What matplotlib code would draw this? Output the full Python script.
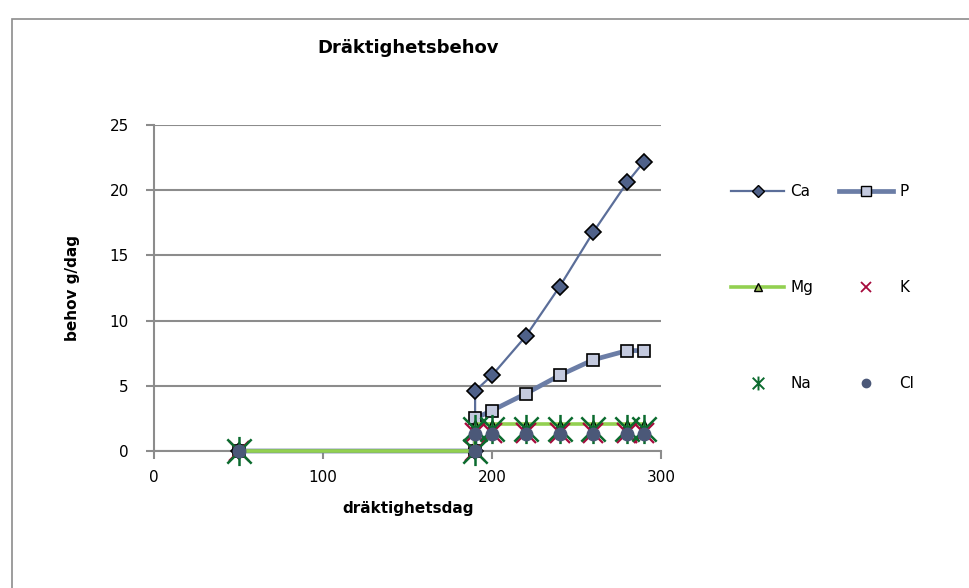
import matplotlib.pyplot as plt
from matplotlib.lines import Line2D
from matplotlib.patches import Rectangle
from matplotlib.path import Path

# Data
days = [50, 190, 190, 200, 220, 240, 260, 280, 290]
ca = [0, 0, 4.6, 5.8, 8.8, 12.6, 16.8, 20.6, 22.2]
p = [0, 0, 2.5, 3.1, 4.4, 5.8, 7.0, 7.7, 7.7]
mg = [0, 0, 2.1, 2.1, 2.1, 2.1, 2.1, 2.1, 2.1]
k = [0, 0, 1.4, 1.4, 1.4, 1.4, 1.4, 1.4, 1.4]
na = [0, 0, 1.7, 1.7, 1.7, 1.7, 1.7, 1.7, 1.7]
cl = [0, 0, 1.3, 1.3, 1.3, 1.3, 1.3, 1.3, 1.3]

ca_col = "#5b6e99"
p_col = "#6b7da6"
mg_col = "#92d050"
k_col = "#a50a3c"
na_col = "#0b6b2e"
cl_col = "#4b5878"
grid_col = "#8c8c8c"

# Excel-style star marker: an x with a vertical stroke
star = Path([(-1, -1), (1, 1), (-1, 1), (1, -1), (0, -1.2), (0, 1.2)],
            [Path.MOVETO, Path.LINETO, Path.MOVETO, Path.LINETO, Path.MOVETO, Path.LINETO])

plt.rcParams['font.family'] = ['DejaVu Sans']

fig = plt.figure(figsize=(9.69, 5.88), dpi=100)
ax = fig.add_axes([154/969, 1-451/588, (661-154)/969, (451-125)/588])

# chart border
fig.patches.append(Rectangle((12/969, -0.1), 1.2, 1-19/588+0.1, transform=fig.transFigure,
                             fill=False, edgecolor="#8c8c8c", linewidth=1.2))

ax.plot(days, ca, color=ca_col, lw=1.6, marker='D', ms=8, mfc="#4f6189", mec='black', mew=1.2, clip_on=False)
ax.plot(days, p, color=p_col, lw=3.4, marker='s', ms=9, mfc="#c4cadf", mec='black', mew=1.2, clip_on=False)
ax.plot(days, mg, color=mg_col, lw=2.6, marker='^', ms=6, mfc="#9bbb59", mec='black', mew=1, clip_on=False)
ax.plot(days, k, ls='none', marker='x', ms=15, mec=k_col, mew=1.6, clip_on=False)
ax.plot(days, na, ls='none', marker=star, ms=21, mec=na_col, mew=1.8, clip_on=False)
ax.plot(days, cl, ls='none', marker='o', ms=9, mfc=cl_col, mec=cl_col, clip_on=False)

ax.set_xlim(0, 300)
ax.set_ylim(0, 25)
ax.set_xticks([0, 100, 200, 300])
ax.set_yticks([0, 5, 10, 15, 20, 25])
ax.grid(axis='y', color=grid_col, lw=1.5)
ax.set_axisbelow(True)
for s in ['top', 'right']:
    ax.spines[s].set_visible(False)
for s in ['left', 'bottom']:
    ax.spines[s].set_color(grid_col)
    ax.spines[s].set_linewidth(1.5)
    ax.spines[s].set_zorder(0.5)
ax.tick_params(axis='both', colors=grid_col, width=1.5, length=6, labelsize=11,
               labelcolor='black', pad=8)
ax.tick_params(axis='y', pad=12)

fig.text(408/969, 1-48/588, "Dräktighetsbehov", ha='center', va='center',
         fontsize=13, fontweight='bold')
fig.text(408/969, 1-508/588, "dräktighetsdag", ha='center', va='center',
         fontsize=11, fontweight='bold')
fig.text(72/969, 1-288/588, "behov g/dag", ha='center', va='center',
         fontsize=11, fontweight='bold', rotation=90)

# legend (row order Ca, P / Mg, K / Na, Cl)
h_ca = Line2D([], [], color=ca_col, lw=1.6, marker='D', ms=6, mfc="#4f6189", mec='black')
h_p = Line2D([], [], color=p_col, lw=3.4, marker='s', ms=7.5, mfc="#c4cadf", mec='black')
h_mg = Line2D([], [], color=mg_col, lw=2.6, marker='^', ms=6, mfc="#9bbb59", mec='black')
h_k = Line2D([], [], ls='none', marker='x', ms=7, mec=k_col, mew=1.3)
h_na = Line2D([], [], ls='none', marker=star, ms=10, mec=na_col, mew=1.4)
h_cl = Line2D([], [], ls='none', marker='o', ms=6, mfc=cl_col, mec=cl_col)
handles = [h_ca, h_mg, h_na, h_p, h_k, h_cl]
labels = ["Ca", "Mg", "Na", "P", "K", "Cl"]
fig.legend(handles, labels, ncol=2, loc='center left', bbox_to_anchor=(731/969, 1-287.5/588),
           frameon=False, fontsize=11, borderpad=0, borderaxespad=0, handlelength=3.5,
           handletextpad=0.4, columnspacing=1.7, labelspacing=5.3)

fig.savefig("out.png", dpi=100)
